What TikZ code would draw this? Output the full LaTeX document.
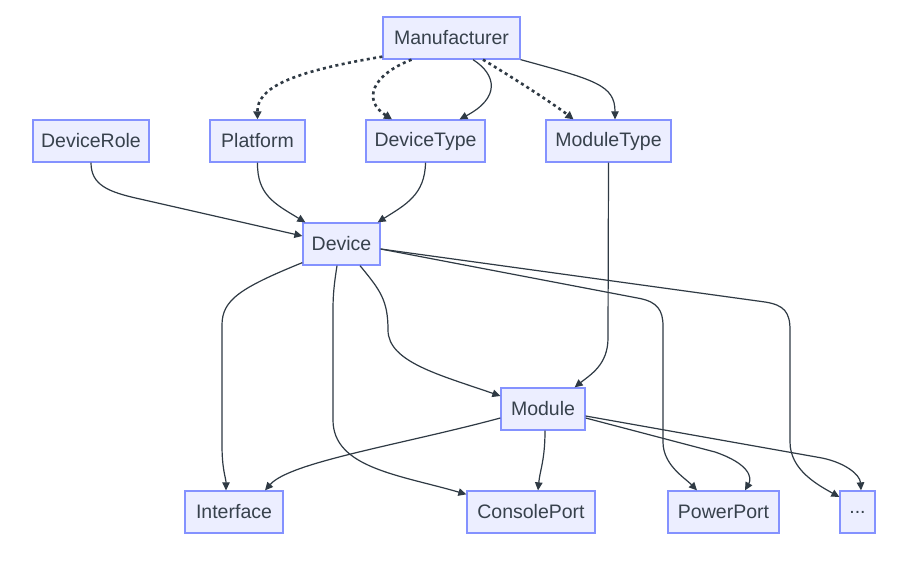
\documentclass[tikz,border=0pt]{standalone}
\usepackage{fontspec}
\setmainfont{Liberation Sans}
\usetikzlibrary{arrows.meta,calc}
\definecolor{boxfill}{HTML}{ECEEFF}
\definecolor{boxline}{HTML}{8492FF}
\definecolor{txt}{HTML}{37414C}
\definecolor{edge}{HTML}{2F3A44}
\begin{document}
\begin{tikzpicture}[x=1pt,y=-1pt,
  ent/.style={draw=boxline,fill=boxfill,line width=1.3pt,minimum height=42pt,inner sep=0pt,
    text=txt,font=\fontsize{19.5}{22}\selectfont},
  rel/.style={draw=edge,line width=1.2pt,-{Triangle[length=8pt,width=7.5pt]}},
  opt/.style={draw=edge,line width=2.6pt,dash pattern=on 3pt off 3.4pt,-{Triangle[length=8pt,width=8pt]}}]
\useasboundingbox (0,0) rectangle (920,569);
\fill[white] (0,0) rectangle (920,569);
% nodes
\node[ent,minimum width=137pt] (mf) at (451.5,38) {Manufacturer};
\node[ent,minimum width=116pt] (dr) at (91,141) {DeviceRole};
\node[ent,minimum width=95pt] (pf) at (257.5,141) {Platform};
\node[ent,minimum width=119pt] (dt) at (425.5,141) {DeviceType};
\node[ent,minimum width=125pt] (mt) at (608.5,141) {ModuleType};
\node[ent,minimum width=77pt] (dev) at (341.5,244) {Device};
\node[ent,minimum width=84pt] (mod) at (543,409) {Module};
\node[ent,minimum width=98pt] (ifc) at (234,512) {Interface};
\node[ent,minimum width=128pt] (cp) at (531,512) {ConsolePort};
\node[ent,minimum width=111pt] (pp) at (723.5,512) {PowerPort};
\node[ent,minimum width=35pt] (etc) at (857.5,512) {...};
% manufacturer edges
\draw[opt] ($(mf.south west)+(0,-3)$) .. controls (290,72) and (257,88) .. (pf.north);
\draw[opt] ($(mf.south)+(-40,0)$) .. controls (372,75) and (362,100) .. ($(dt.north)+(-33.5,0)$);
\draw[rel] ($(mf.south)+(21.5,0)$) .. controls (497,75) and (500,98) .. ($(dt.north)+(34,0)$);
\draw[opt] ($(mf.south)+(31.5,0)$) .. controls (520,82) and (555,105) .. ($(mt.north)+(-35,0)$);
\draw[rel] (mf.south east) .. controls (595,80) and (615,85) .. ($(mt.north)+(6.5,0)$);
% into device
\draw[rel] (dr.south) .. controls (91,185) and (108,192) .. (140,199) -- ($(dev.west)+(0,-8)$);
\draw[rel] (pf.south) .. controls (257,195) and (275,204) .. ($(dev.north west)+(3,0)$);
\draw[rel] (dt.south) .. controls (425,195) and (405,205) .. ($(dev.north east)+(-3,0)$);
% moduletype to module
\draw[rel] (mt.south) -- (608,338) .. controls (608,365) and (590,375) .. ($(mod.north east)+(-11,0)$);
% device out
\draw[rel] ($(dev.south west)+(0,-3)$) .. controls (240,288) and (222,300) .. (222,325) -- (222,445) .. controls (222,470) and (226,478) .. ($(ifc.north)+(-8,0)$);
\draw[rel] ($(dev.south)+(-4.5,0)$) .. controls (334,285) and (333,295) .. (333,310) -- (333,420) .. controls (333,468) and (400,475) .. ($(cp.north west)+(0,4)$);
\draw[rel] ($(dev.south)+(18.5,0)$) .. controls (380,290) and (388,300) .. (388,330) .. controls (388,362) and (440,375) .. ($(mod.west)+(0,-13)$);
\draw[rel] ($(dev.east)+(0,5)$) -- (640,298.5) .. controls (657,302) and (663,310) .. (663,326) -- (663,442) .. controls (663,465) and (685,478) .. ($(pp.north)+(-26.5,0)$);
\draw[rel] ($(dev.east)+(0,5)$) -- (765,302) .. controls (784,305) and (790,312) .. (790,330) -- (790,442) .. controls (790,470) and (818,485) .. ($(etc.west)+(0,-15)$);
% module out
\draw[rel] ($(mod.west)+(0,9)$) .. controls (400,445) and (290,462) .. ($(ifc.north)+(31,0)$);
\draw[rel] ($(mod.south)+(2,0)$) .. controls (545,460) and (540,470) .. ($(cp.north)+(7,0)$);
\draw[rel] ($(mod.east)+(0,9)$) -- (715,452) .. controls (750,464) and (752,478) .. ($(pp.north)+(21.5,0)$);
\draw[rel] ($(mod.east)+(0,7)$) -- (822,458) .. controls (846,463) and (860,475) .. ($(etc.north)+(3.5,0)$);
\end{tikzpicture}
\end{document}
